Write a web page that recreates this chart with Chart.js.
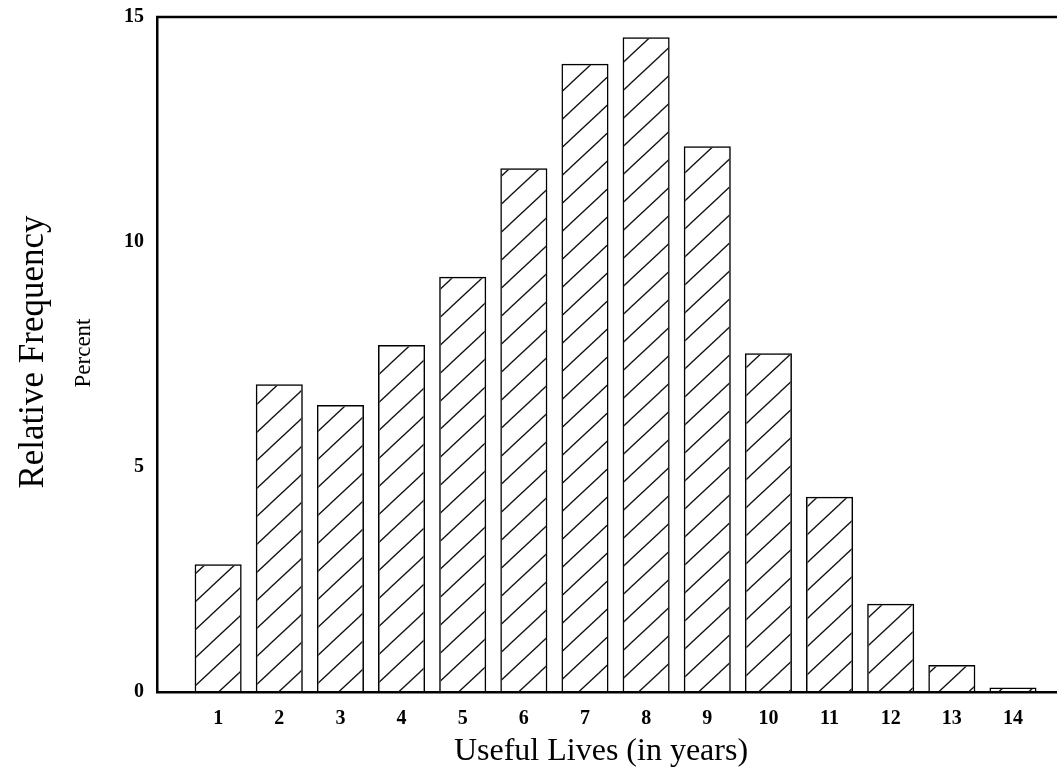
<!DOCTYPE html>
<html>
<head>
<meta charset="utf-8">
<script src="https://cdn.jsdelivr.net/npm/chart.js@4/dist/chart.umd.min.js"></script>
<style>
  html, body { margin: 0; padding: 0; background: #fff; }
  #wrap { width: 1057px; height: 768px; position: relative; }
</style>
</head>
<body>
<div id="wrap"><canvas id="chart"></canvas></div>
<script>
// useful life in years, relative frequency in percent
const years = [1, 2, 3, 4, 5, 6, 7, 8, 9, 10, 11, 12, 13, 14];
const relFreq = [2.84, 6.84, 6.38, 7.71, 9.23, 11.64, 13.96, 14.55, 12.13, 7.53, 4.34, 1.96, 0.6, 0.1];
const yTicks = [0, 5, 10, 15];

const serif = '"Liberation Serif", "Times New Roman", serif';

// diagonal hatch fill
function hatch() {
  const w = 30, h = 28;
  const c = document.createElement('canvas');
  c.width = w;
  c.height = h;
  const g = c.getContext('2d');
  g.strokeStyle = '#111';
  g.lineWidth = 1.3;
  for (let k = -1; k <= 1; k++) {
    g.beginPath();
    g.moveTo(-w, 2 * h + k * h);
    g.lineTo(2 * w, -h + k * h);
    g.stroke();
  }
  return g.createPattern(c, 'repeat');
}

// frame top line + axis titles
const frameAndTitles = {
  id: 'frameAndTitles',
  afterDraw(chart) {
    const { ctx, chartArea } = chart;
    ctx.save();
    ctx.strokeStyle = '#000';
    ctx.lineWidth = 2.5;
    ctx.beginPath();
    ctx.moveTo(chartArea.left - 1, chartArea.top);
    ctx.lineTo(chartArea.right, chartArea.top);
    ctx.stroke();

    ctx.fillStyle = '#000';
    ctx.textAlign = 'center';
    ctx.textBaseline = 'alphabetic';
    ctx.font = '32px ' + serif;
    ctx.fillText('Useful Lives (in years)', 601, 760);

    ctx.save();
    ctx.translate(43, 352);
    ctx.rotate(-Math.PI / 2);
    ctx.font = '35px ' + serif;
    ctx.fillText('Relative Frequency', 0, 0);
    ctx.restore();

    ctx.save();
    ctx.translate(90, 353);
    ctx.rotate(-Math.PI / 2);
    ctx.font = '23px ' + serif;
    ctx.fillText('Percent', 0, 0);
    ctx.restore();
    ctx.restore();
  }
};

new Chart(document.getElementById('chart').getContext('2d'), {
  type: 'bar',
  data: {
    datasets: [{
      data: years.map((y, i) => ({ x: y, y: relFreq[i] })),
      backgroundColor: hatch(),
      borderColor: '#000',
      borderWidth: 1.5,
      categoryPercentage: 1,
      barPercentage: 0.77
    }]
  },
  options: {
    responsive: true,
    maintainAspectRatio: false,
    animation: false,
    layout: { padding: { top: 17, right: 0, left: 0, bottom: 0 } },
    plugins: { legend: { display: false }, tooltip: { enabled: false } },
    scales: {
      x: {
        type: 'linear',
        min: 0,
        max: 14.72,
        offset: false,
        grid: { display: false, drawTicks: false },
        border: { display: true, color: '#000', width: 2.5 },
        afterBuildTicks(scale) { scale.ticks = years.map(v => ({ value: v })); },
        afterFit(scale) {
          scale.height = 76;
          scale.paddingLeft = 0;
          scale.paddingRight = 0;
        },
        ticks: {
          autoSkip: false,
          maxRotation: 0,
          padding: 15,
          color: '#000',
          font: { family: serif, size: 20, weight: 'bold' },
          callback: v => String(v)
        }
      },
      y: {
        min: 0,
        max: 15,
        grid: { display: false, drawTicks: false },
        border: { display: true, color: '#000', width: 2.5 },
        afterBuildTicks(scale) { scale.ticks = yTicks.map(v => ({ value: v })); },
        afterFit(scale) {
          scale.width = 157;
          scale.paddingTop = 0;
          scale.paddingBottom = 0;
        },
        ticks: {
          padding: 13,
          color: '#000',
          font: { family: serif, size: 20, weight: 'bold' },
          callback: v => String(v)
        }
      }
    }
  },
  plugins: [frameAndTitles]
});
</script>
</body>
</html>
